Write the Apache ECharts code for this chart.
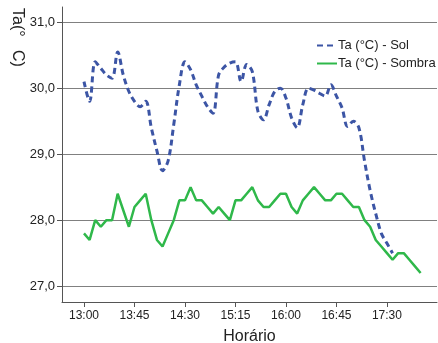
<!DOCTYPE html>
<html lang="pt">

<head>
  <meta charset="UTF-8">
  <script src="https://cdn.jsdelivr.net/npm/echarts@6.0.0/dist/echarts.min.js"></script>
  <style>
    body,
    html {
      margin: 0;
      padding: 0;
      width: 100%;
      height: 100%;
      background: #fff;
      overflow: hidden;
    }

    #main {
      width: 438px;
      height: 343px;
    }
  </style>
</head>

<body>
  <div id="main"></div>
  <script type="text/javascript">
    // leituras a cada 5 minutos, de 13:00 a 18:00
    var stepMin = 5;
    var tickMinutes = [0, 45, 90, 135, 180, 225, 270];
    var yTicks = [27, 28, 29, 30, 31];

    var sol = [
      30.1, 29.8, 30.4, 30.3, 30.2, 30.15, 30.55, 30.2, 29.95, 29.8,
      29.72, 29.8, 29.4, 29.05, 28.75, 28.9, 29.45, 30.05, 30.4, 30.28,
      30.05, 29.88, 29.72, 29.62, 30.2, 30.32, 30.38, 30.4, 30.1, 30.36,
      30.25, 29.65, 29.52, 29.75, 29.95, 30.0, 29.85, 29.55, 29.4, 29.75,
      30.0, 29.97, 29.92, 29.88, 30.05, 29.88, 29.7, 29.42, 29.5, 29.4,
      28.9, 28.45, 28.1, 27.8, 27.65, 27.5
    ];

    var sombra = [
      27.8, 27.7, 28.0, 27.9, 28.0, 28.0, 28.4, 28.15, 27.9, 28.2,
      28.3, 28.4, 28.0, 27.7, 27.6, 27.8, 28.0, 28.3, 28.3, 28.5,
      28.3, 28.3, 28.2, 28.1, 28.2, 28.1, 28.0, 28.3, 28.3, 28.4,
      28.5, 28.3, 28.2, 28.2, 28.3, 28.4, 28.4, 28.2, 28.1, 28.3,
      28.4, 28.5, 28.4, 28.3, 28.3, 28.4, 28.4, 28.3, 28.2, 28.2,
      28.0, 27.9, 27.7, 27.6, 27.5, 27.4, 27.5, 27.5, 27.4, 27.3,
      27.2
    ];

    function toPairs(arr) {
      return arr.map(function (v, i) { return [i * stepMin, v]; });
    }

    function fmtTime(m) {
      var h = 13 + Math.floor(m / 60);
      var mm = m % 60;
      return h + ':' + (mm < 10 ? '0' : '') + mm;
    }

    var myChart = echarts.init(document.getElementById('main'));

    var option = {
      backgroundColor: '#fff',
      animation: false,
      textStyle: { fontFamily: 'Liberation Sans, Arial, sans-serif' },
      grid: { left: 62, right: 1, top: 7, bottom: 41, outerBoundsMode: 'none' },
      legend: {
        orient: 'vertical',
        left: 311,
        top: 34,
        itemWidth: 20,
        itemHeight: 12,
        itemGap: 5,
        itemStyle: { opacity: 0 },
        textStyle: { fontSize: 13, color: '#222', padding: [0, 0, 0, -4] },
        data: ['Ta (°C) - Sol', 'Ta (°C) - Sombra']
      },
      graphic: [{
        type: 'text',
        left: 9,
        top: 8,
        rotation: -Math.PI / 2,
        style: {
          text: 'Ta(°   C)',
          font: '16px Liberation Sans, Arial, sans-serif',
          fill: '#222'
        }
      }],
      xAxis: {
        type: 'value',
        min: -19.6,
        max: 314.6,
        name: 'Horário',
        nameLocation: 'middle',
        nameGap: 27,
        nameTextStyle: { fontSize: 16, color: '#222' },
        axisLine: { onZero: false, lineStyle: { color: '#555', width: 1 } },
        axisTick: { show: true, length: 5, customValues: tickMinutes, lineStyle: { color: '#555' } },
        axisLabel: {
          customValues: tickMinutes,
          color: '#222',
          fontSize: 12,
          margin: 8,
          formatter: function (v) { return fmtTime(v); }
        },
        splitLine: { show: false }
      },
      yAxis: {
        type: 'value',
        min: 26.76,
        max: 31.23,
        axisLine: { show: true, onZero: false, lineStyle: { color: '#555', width: 1 } },
        axisTick: { show: true, length: 5, customValues: yTicks, lineStyle: { color: '#555' } },
        axisLabel: {
          customValues: yTicks,
          color: '#222',
          fontSize: 13,
          margin: 7,
          formatter: function (v) { return v.toFixed(1).replace('.', ','); }
        },
        splitLine: { show: true, lineStyle: { color: '#808080', width: 1 } }
      },
      series: [
        {
          name: 'Ta (°C) - Sol',
          type: 'line',
          data: toPairs(sol),
          symbol: 'none',
          smooth: 0.35,
          lineStyle: { color: '#3c55a5', width: 3, type: [6, 4] },
          itemStyle: { color: '#3c55a5' }
        },
        {
          name: 'Ta (°C) - Sombra',
          type: 'line',
          data: toPairs(sombra),
          symbol: 'none',
          lineStyle: { color: '#2fb84a', width: 2.5 },
          itemStyle: { color: '#2fb84a' }
        }
      ]
    };

    myChart.setOption(option);
  </script>
</body>

</html>
